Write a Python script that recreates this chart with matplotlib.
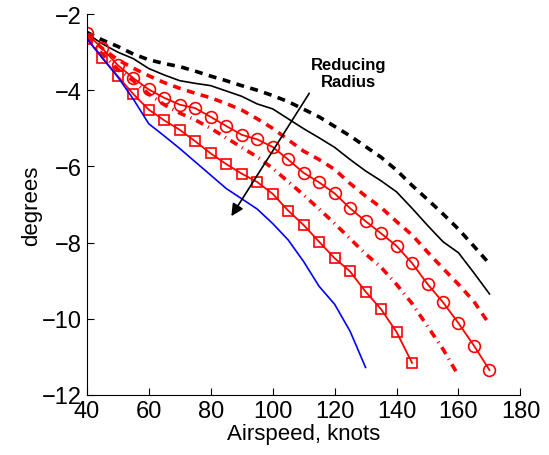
import matplotlib
matplotlib.use('Agg')
import matplotlib.pyplot as plt

plt.rcParams['font.family'] = ['Liberation Sans', 'DejaVu Sans']

# airspeed grids, knots
speed_170 = list(range(40, 171, 5))
speed_160 = list(range(40, 161, 5))
speed_145 = list(range(40, 146, 5))
speed_130 = list(range(40, 131, 5))

# angle, degrees (largest radius first)
black_dash = [-2.48, -2.68, -2.85, -3.05, -3.20, -3.30, -3.38, -3.50, -3.63, -3.75, -3.88, -4.00, -4.14, -4.30,
              -4.50, -4.70, -4.95, -5.20, -5.48, -5.76, -6.10, -6.50, -6.87, -7.25, -7.65, -8.10, -8.56]
black_solid = [-2.51, -2.78, -3.00, -3.17, -3.43, -3.60, -3.75, -3.82, -3.88, -4.02, -4.16, -4.36, -4.49, -4.75,
               -5.01, -5.25, -5.50, -5.82, -6.12, -6.38, -6.67, -7.10, -7.55, -7.98, -8.27, -8.80, -9.35]
red_dash = [-2.55, -2.90, -3.20, -3.42, -3.62, -3.80, -3.95, -4.08, -4.20, -4.35, -4.52, -4.75, -5.00, -5.30,
            -5.60, -5.82, -6.08, -6.45, -6.78, -7.08, -7.45, -7.80, -8.25, -8.68, -9.10, -9.55, -10.15]
red_circle = [-2.51, -2.90, -3.34, -3.68, -3.98, -4.20, -4.38, -4.47, -4.70, -4.94, -5.17, -5.29, -5.49, -5.82,
              -6.17, -6.42, -6.71, -7.10, -7.44, -7.76, -8.09, -8.54, -9.09, -9.57, -10.12, -10.71, -11.35]
red_dashdot = [-2.60, -3.05, -3.45, -3.75, -4.10, -4.38, -4.60, -4.78, -5.00, -5.25, -5.50, -5.75, -6.05,
               -6.40, -6.75, -7.12, -7.50, -7.90, -8.30, -8.65, -9.10, -9.60, -10.20, -10.80, -11.50]
red_square = [-2.65, -3.15, -3.63, -4.10, -4.51, -4.79, -5.04, -5.34, -5.66, -5.94, -6.19, -6.41, -6.72,
              -7.16, -7.54, -7.98, -8.41, -8.76, -9.29, -9.75, -10.35, -11.16]
blue_solid = [-2.64, -3.15, -3.65, -4.23, -4.88, -5.20, -5.53, -5.88, -6.23, -6.58, -6.85, -7.12, -7.50,
              -7.93, -8.50, -9.15, -9.62, -10.33, -11.28]

fig = plt.figure(figsize=(5.49, 4.56), dpi=100)
ax = fig.add_axes([0.158, 0.132, 0.79, 0.835])

ax.plot(speed_170, black_dash, color='k', lw=2.6, dashes=(2.2, 1.8))
ax.plot(speed_170, black_solid, color='k', lw=1.2)
ax.plot(speed_170, red_dash, color='r', lw=2.6, dashes=(2.2, 1.8))
ax.plot(speed_170, red_circle, color='r', lw=1.3, marker='o', ms=8.5, mfc='none', mew=1.2)
ax.plot(speed_160, red_dashdot, color='r', lw=2.6, dashes=(2.2, 1.5, 0.3, 1.5))
ax.plot(speed_145, red_square, color='r', lw=1.3, marker='s', ms=7, mfc='none', mew=1.2)
ax.plot(speed_130, blue_solid, color='b', lw=1.2)

ax.annotate('', xy=(86.2, -7.37), xytext=(112.3, -4.02),
            arrowprops=dict(arrowstyle='-|>', color='k', lw=1.2, mutation_scale=18))
ax.text(124.5, -3.55, 'Reducing\nRadius', fontsize=12, fontweight='bold', ha='center', va='center',
        linespacing=1.15)

ax.set_xlim(40, 180)
ax.set_ylim(-12, -2)
ax.set_xticks(range(40, 181, 20))
ax.set_yticks(range(-12, -1, 2))
ax.tick_params(direction='in', labelsize=17, length=5)
ax.spines['top'].set_visible(False)
ax.spines['right'].set_visible(False)
ax.set_xlabel('Airspeed, knots', fontsize=16, labelpad=1)
ax.set_ylabel('degrees', fontsize=16, labelpad=0)

fig.savefig('out.png', dpi=100)
